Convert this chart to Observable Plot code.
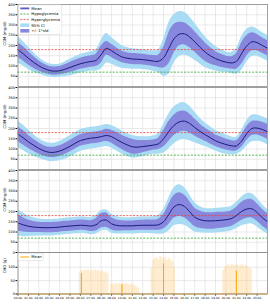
<!DOCTYPE html>
<html>
<head>
<meta charset="utf-8">
<script src="https://cdn.jsdelivr.net/npm/d3@7"></script>
<script src="https://cdn.jsdelivr.net/npm/@observablehq/plot@0.6"></script>
<style>
  body { margin: 0; background: #fff; }
  #chart { position: relative; width: 270px; height: 305px; overflow: hidden; font-family: "DejaVu Sans", sans-serif; }
  #chart svg { position: absolute; left: 0; overflow: visible; }
</style>
</head>
<body>
<div id="chart"></div>
<script>
// ---- data ----
const hours = d3.range(0, 24.01, 0.5);
const hourTicks = d3.range(0, 24);
const glucoseTicks = [50, 100, 150, 200, 250, 300, 350, 400];
const glucoseTicksWithZero = [0, 50, 100, 150, 200, 250, 300, 350, 400];
const carbTicks = [0, 50, 100];
const hypoLevel = [70];
const hyperLevel = [180];

const mean1 = [178,160,138,118,101,88,79,75,77,84,93,102,111,117,122,127,155,186,174,158,144,138,134,133,131,128,124,123,140,185,232,255,257,242,218,192,168,150,136,126,119,115,122,160,198,218,214,200,187];
const sd1   = [37,35,33,29,25,22,20,20,20,22,24,26,27,28,28,30,42,34,32,30,28,27,27,27,26,26,27,30,50,75,70,58,54,52,50,48,45,40,35,32,30,30,38,52,50,44,40,38,37];
const ci1   = [65,60,55,48,40,35,32,32,32,36,40,43,45,46,47,52,70,72,65,60,55,52,50,49,48,48,50,55,90,125,118,110,105,98,90,82,75,67,60,55,50,50,62,82,80,72,66,63,62];

const mean2 = [172,155,135,118,103,91,84,84,90,100,113,128,141,148,153,155,160,166,160,146,132,120,111,109,112,115,119,125,150,185,215,232,236,225,205,186,170,155,140,130,122,116,115,138,175,200,202,195,184];
const sd2   = [37,35,32,29,27,25,25,25,26,27,28,28,28,28,28,28,28,30,32,34,35,36,36,33,30,27,25,28,40,48,50,50,49,46,42,36,32,30,28,28,27,26,25,30,34,34,34,35,37];
const ci2   = [65,62,58,53,48,45,45,45,47,50,52,53,53,53,53,53,53,54,55,56,56,56,55,52,48,45,45,50,70,85,90,90,90,85,75,65,58,53,50,50,48,44,42,52,62,65,64,62,63];

const mean3 = [144,135,128,124,122,121,121,122,124,127,129,131,133,132,129,135,155,158,140,132,130,130,130,132,133,133,133,135,150,185,222,234,225,200,172,160,155,154,155,157,160,165,180,200,212,213,195,170,150];
const sd3   = [40,35,30,27,25,25,25,25,25,25,25,25,25,25,26,30,35,35,30,27,25,24,24,24,24,25,25,27,35,48,55,57,55,50,45,42,40,40,40,39,38,38,40,44,45,45,43,41,40];
const ci3   = [65,58,50,45,42,40,40,40,40,40,40,40,40,40,42,46,50,50,46,42,40,40,40,40,40,40,42,46,60,80,92,97,92,82,72,64,60,60,60,60,60,60,64,70,75,74,70,64,60];

// carbohydrate intake, 10-minute bins (start hour, grams)
const carbStart = [
  5.9,6.07,6.23,6.4,6.57,6.73,6.9,7.07,7.23,7.4,7.57,7.73,7.9,8.07,8.23,8.4,8.57,
  8.9,9.07,9.23,9.4,9.57,9.73,9.9,10.07,10.23,10.4,10.57,10.73,10.9,11.07,11.23,11.4,11.57,
  12.8,12.97,13.13,13.3,13.47,13.63,13.8,13.97,14.13,14.3,14.47,14.63,14.8,14.97,
  19.7,19.87,20.03,20.2,20.37,20.53,20.7,20.87,21.03,21.2,21.37,21.53,21.7,21.87,22.03,22.2,22.37
];
const carbGrams = [
  82,88,85,90,86,92,84,89,87,91,85,88,80,86,78,82,76,
  36,38,34,40,37,39,35,38,36,40,37,34,38,33,30,26,22,
  95,125,132,138,128,140,135,130,137,126,134,128,120,100,
  90,100,105,110,104,112,108,106,111,103,107,109,104,108,100,98,92
];
const mealTimes = [6.1, 10.0, 14.0, 21.0];
const mealMeans = [77, 35, 113, 85];

// ---- styling ----
const W = 270;
const marginLeft = 17.5, marginRight = 3;
const font = {fontSize: "3.5px", fontFamily: "DejaVu Sans, sans-serif", background: "transparent", overflow: "visible"};
const gridColor = "#dcdcdc";
const frameColor = "#8c8c8c";
const ciColor = "#a9dbf5";
const sdColor = "#8787dd";
const meanColor = "#1b1b80";
const hypoColor = "#2ca02c";
const hyperColor = "#e8403a";
const fmtHour = h => String(h).padStart(2, "0") + ":00";

const chart = document.getElementById("chart");

function place(svg, top) {
  svg.style.top = top + "px";
  chart.appendChild(svg);
}

function cgmPanel(mean, sd, ci, top, ticks) {
  const rows = hours.map((h, i) => ({h, mean: mean[i], sd: sd[i], ci: ci[i]}));
  const svg = Plot.plot({
    width: W, height: 88,
    marginTop: 4, marginBottom: 2, marginLeft, marginRight,
    style: font,
    x: {domain: [0, 24], axis: null},
    y: {domain: [0, 400], ticks, tickFormat: d => String(d), tickSize: 2, tickPadding: 1, label: null},
    marks: [
      Plot.ruleX(hourTicks, {stroke: gridColor, strokeWidth: 0.6}),
      Plot.ruleY(glucoseTicks, {stroke: gridColor, strokeWidth: 0.6}),
      Plot.areaY(rows, {x: "h", y1: d => d.mean - d.ci, y2: d => d.mean + d.ci, fill: ciColor, curve: "catmull-rom", clip: true}),
      Plot.areaY(rows, {x: "h", y1: d => d.mean - d.sd, y2: d => d.mean + d.sd, fill: sdColor, curve: "catmull-rom", clip: true}),
      Plot.ruleY(hypoLevel, {stroke: hypoColor, strokeWidth: 0.8, strokeDasharray: "2,1.4"}),
      Plot.ruleY(hyperLevel, {stroke: hyperColor, strokeWidth: 0.8, strokeDasharray: "2,1.4"}),
      Plot.line(rows, {x: "h", y: "mean", stroke: meanColor, strokeWidth: 1, curve: "catmull-rom"}),
      Plot.text(["CGM (mg/dl)"], {text: d => d, frameAnchor: "left", rotate: -90, dx: -13.5, fontSize: 3.8}),
      Plot.frame({stroke: frameColor, strokeWidth: 0.8})
    ]
  });
  place(svg, top);
}

cgmPanel(mean1, sd1, ci1, 0, glucoseTicks);
cgmPanel(mean2, sd2, ci2, 83, glucoseTicks);
cgmPanel(mean3, sd3, ci3, 166, glucoseTicksWithZero);

// carbohydrate panel
const carbRows = carbStart.map((t, i) => ({t, g: carbGrams[i]}));
const mealRows = mealTimes.map((t, i) => ({t, g: mealMeans[i]}));
const carbSvg = Plot.plot({
  width: W, height: 57,
  marginTop: 4, marginBottom: 11.5, marginLeft, marginRight,
  style: font,
  x: {domain: [0, 24], ticks: hourTicks, tickFormat: fmtHour, tickSize: 2, tickPadding: 1, label: null},
  y: {domain: [0, 155], ticks: carbTicks, tickFormat: d => String(d), tickSize: 2, tickPadding: 1, label: null},
  marks: [
    Plot.ruleX(hourTicks, {stroke: gridColor, strokeWidth: 0.6}),
    Plot.ruleY(carbTicks, {stroke: gridColor, strokeWidth: 0.6}),
    Plot.rectY(carbRows, {x1: "t", x2: d => d.t + 1 / 6, y: "g", fill: "#ffcf85", fillOpacity: 0.4}),
    Plot.ruleY([0], {stroke: "#f5a623", strokeWidth: 1}),
    Plot.ruleX(mealRows, {x: "t", y1: 0, y2: "g", stroke: "#ffa500", strokeWidth: 1}),
    Plot.text(["CHO (g)"], {text: d => d, frameAnchor: "left", rotate: -90, dx: -13.5, fontSize: 3.8}),
    Plot.frame({stroke: frameColor, strokeWidth: 0.8})
  ]
});
d3.select(carbSvg).selectAll('g[aria-label^="x-axis"] text').attr("font-size", 2.9);
place(carbSvg, 248);

// ---- legends ----
function legend(x, y, w, entries) {
  const rowH = 5.6;
  const h = entries.length * rowH + 1.6;
  const svg = d3.create("svg").attr("width", W).attr("height", 305)
    .style("position", "absolute").style("left", "0px").style("top", "0px");
  const g = svg.append("g").attr("transform", `translate(${x},${y})`);
  g.append("rect").attr("width", w).attr("height", h).attr("rx", 1)
    .attr("fill", "white").attr("fill-opacity", 0.8).attr("stroke", "#d0d0d0").attr("stroke-width", 0.5);
  entries.forEach((e, i) => {
    const cy = 3.6 + i * rowH;
    if (e.type === "line") {
      g.append("line").attr("x1", 2).attr("x2", 11).attr("y1", cy).attr("y2", cy)
        .attr("stroke", e.color).attr("stroke-width", e.width || 1).attr("stroke-dasharray", e.dash || null);
    } else {
      g.append("rect").attr("x", 2).attr("y", cy - 1.8).attr("width", 9).attr("height", 3.6).attr("fill", e.color);
    }
    g.append("text").attr("x", 13).attr("y", cy).attr("dy", "0.35em")
      .attr("font-size", 3.8).attr("font-family", "DejaVu Sans, sans-serif").text(e.label);
  });
  chart.appendChild(svg.node());
}
legend(18.3, 4.8, 43.5, [
  {label: "Mean", type: "line", color: "#5a5ac0", width: 1.8},
  {label: "Hypoglycemia", type: "line", color: hypoColor, dash: "2,1.2", width: 0.8},
  {label: "Hyperglycemia", type: "line", color: hyperColor, dash: "2,1.2", width: 0.8},
  {label: "95% CI", type: "rect", color: ciColor},
  {label: "+/- 1*std", type: "rect", color: sdColor}
]);
legend(18.3, 253.4, 25, [
  {label: "Mean", type: "line", color: "#ffa500", width: 1}
]);
</script>
</body>
</html>
